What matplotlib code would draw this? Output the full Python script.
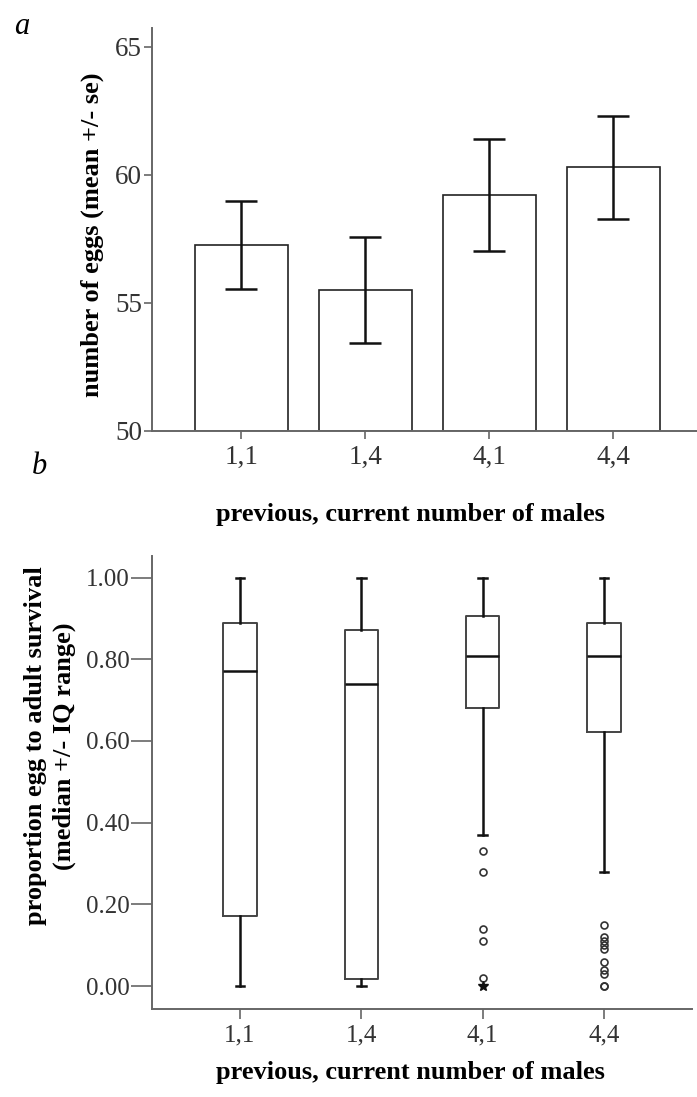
import matplotlib
matplotlib.use("Agg")
import matplotlib.pyplot as plt
import numpy as np

# group labels (previous, current number of males)
groups = ["1,1", "1,4", "4,1", "4,4"]

# panel a: mean number of eggs +/- se
egg_mean = [57.27, 55.51, 59.20, 60.31]
egg_se_hi = [58.97, 57.59, 61.40, 62.32]
egg_se_lo = [55.53, 53.44, 57.03, 58.29]

# panel b: proportion surviving egg -> adult (box plot stats)
surv_whislo = [0.00, 0.00, 0.37, 0.28]
surv_q1 = [0.171, 0.018, 0.680, 0.621]
surv_med = [0.771, 0.740, 0.809, 0.809]
surv_q3 = [0.889, 0.871, 0.905, 0.889]
surv_whishi = [1.00, 1.00, 1.00, 1.00]
surv_fliers = [[], [],
               [0.33, 0.28, 0.14, 0.11, 0.02],
               [0.15, 0.12, 0.11, 0.10, 0.09, 0.06, 0.04, 0.03, 0.00, 0.00]]
surv_extremes = [[], [], [0.00], []]

plt.rcParams['font.family'] = ['Liberation Serif', 'DejaVu Serif']

tick_col = '#333333'
spine_col = '#666666'
W, H = 697, 1097

fig = plt.figure(figsize=(W / 100, H / 100), dpi=100)

# ---- panel a ----
ax1 = fig.add_axes([152 / W, 1 - 431 / H, 550.6 / W, 403 / H])
x = np.arange(len(groups))
err = [np.array(egg_mean) - np.array(egg_se_lo), np.array(egg_se_hi) - np.array(egg_mean)]
ax1.bar(x, np.array(egg_mean) - 50, bottom=50, width=0.75, color='white',
        edgecolor='#222222', linewidth=1.2, zorder=2)
ax1.errorbar(x, egg_mean, yerr=err, fmt='none', ecolor='#111111', elinewidth=1.8,
             capsize=11.5, capthick=1.8, zorder=3)
ax1.set_xlim(-0.72, 3.72)
ax1.set_ylim(50, 65.74)
ax1.set_yticks([50, 55, 60, 65])
ax1.set_xticks(x)
ax1.set_xticklabels(groups)
ax1.tick_params(axis='y', length=6, width=1.2, color=spine_col, labelsize=19.5,
                labelcolor=tick_col, pad=1)
ax1.tick_params(axis='x', length=6, width=1.2, color=spine_col, labelsize=19.5,
                labelcolor=tick_col, pad=4)
for s in ['top', 'right']:
    ax1.spines[s].set_visible(False)
for s in ['left', 'bottom']:
    ax1.spines[s].set_color(spine_col)
    ax1.spines[s].set_linewidth(1.4)

# ---- panel b ----
ax2 = fig.add_axes([152.3 / W, 1 - 1009 / H, (691.7 - 152.3) / W, (1009 - 555.5) / H])
stats = []
for i in range(len(groups)):
    stats.append(dict(med=surv_med[i], q1=surv_q1[i], q3=surv_q3[i],
                      whislo=surv_whislo[i], whishi=surv_whishi[i],
                      fliers=surv_fliers[i]))
ax2.bxp(stats, positions=x, widths=0.275, showfliers=True, patch_artist=False,
        boxprops=dict(color='#444444', linewidth=1.4),
        medianprops=dict(color='#111111', linewidth=1.8),
        whiskerprops=dict(color='#111111', linewidth=1.8),
        capprops=dict(color='#111111', linewidth=1.8),
        capwidths=0.07,
        flierprops=dict(marker='o', markersize=5, markerfacecolor='none',
                        markeredgecolor='#333333', markeredgewidth=1.2, linestyle='none'))
for i, ext in enumerate(surv_extremes):
    if ext:
        ax2.plot([x[i]] * len(ext), ext, linestyle='none', marker='*', markersize=7,
                 color='#111111')
ax2.set_xlim(-0.723, 3.723)
ax2.set_ylim(-0.056, 1.054)
ax2.set_yticks([0, 0.2, 0.4, 0.6, 0.8, 1.0])
ax2.set_yticklabels(['%.2f' % v for v in [0, 0.2, 0.4, 0.6, 0.8, 1.0]])
ax2.set_xticks(x)
ax2.set_xticklabels(groups)
ax2.tick_params(axis='y', length=15, width=1.2, color=spine_col, labelsize=18,
                labelcolor=tick_col, pad=1)
ax2.tick_params(axis='x', length=7, width=1.2, color=spine_col, labelsize=18,
                labelcolor=tick_col, pad=4)
for s in ['top', 'right']:
    ax2.spines[s].set_visible(False)
for s in ['left', 'bottom']:
    ax2.spines[s].set_color(spine_col)
    ax2.spines[s].set_linewidth(1.4)

# axis titles and panel letters
fig.text(92 / W, 1 - 234.5 / H, 'number of eggs (mean +/- se)', rotation=90,
         ha='center', va='center', fontsize=19, fontweight='bold')
fig.text(50 / W, 1 - 746 / H, 'proportion egg to adult survival\n(median +/- IQ range)',
         rotation=90, ha='center', va='center', multialignment='center',
         fontsize=19, fontweight='bold', linespacing=1.3)
fig.text(410 / W, 1 - 515 / H, 'previous, current number of males', ha='center',
         va='center', fontsize=19, fontweight='bold')
fig.text(410 / W, 1 - 1073 / H, 'previous, current number of males', ha='center',
         va='center', fontsize=19, fontweight='bold')
fig.text(22 / W, 1 - 26 / H, 'a', ha='center', va='center', fontsize=22, style='italic')
fig.text(39 / W, 1 - 467 / H, 'b', ha='center', va='center', fontsize=22, style='italic')

fig.savefig('out.png', dpi=100)
